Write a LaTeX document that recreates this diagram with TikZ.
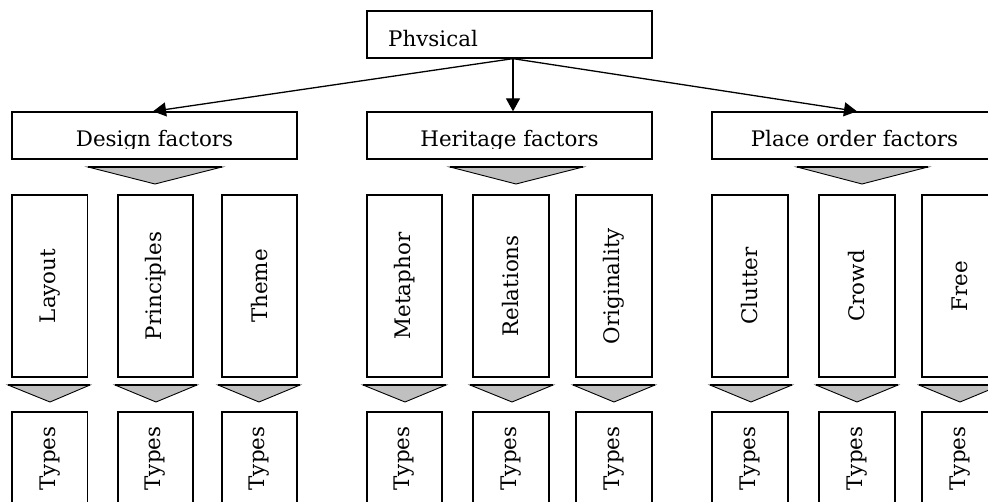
\documentclass[tikz,border=0pt]{standalone}
\usepackage{fontspec}
\setmainfont{DejaVu Serif}
\usetikzlibrary{arrows.meta}
\definecolor{trigray}{HTML}{C0C0C0}
\begin{document}
\begin{tikzpicture}[x=1pt,y=-1pt,
  box/.style={draw, line width=1.3pt, inner sep=0pt, fill=white},
  lab/.style={font=\fontsize{21.4}{24}\selectfont, inner sep=0pt},
  vlab/.style={lab, rotate=90},
  arr/.style={line width=1.3pt, -{Triangle[length=13pt,width=14pt]}},
  tri/.style={draw, line width=0.9pt, fill=trigray, line join=miter},
  tritop/.style={line width=2pt}
]
\useasboundingbox (0,0) rectangle (988,502);
\clip (0,0) rectangle (988,502);

% top box
\node[box, minimum width=285pt, minimum height=47pt] (phys) at (509.5,34.5) {};
\begin{scope}
  \clip (367,11) rectangle (652,48.5);
  \node[lab, anchor=base west] (physt) at (388,47) {Phvsical};
\end{scope}

% factor boxes
\node[box, minimum width=285pt, minimum height=47pt] (design) at (154.5,135.5) {};
\node[box, minimum width=285pt, minimum height=47pt] (heritage) at (509.5,135.5) {};
\node[box, minimum width=285pt, minimum height=47pt] (place) at (854.5,135.5) {};
\begin{scope}
  \clip (0,112) rectangle (988,149);
  \node[lab, anchor=base] (designt) at (154.5,147) {Design factors};
  \node[lab, anchor=base] (heritaget) at (509.5,147) {Heritage factors};
  \node[lab, anchor=base] (placet) at (854.5,147) {Place order factors};
\end{scope}

% arrows
\coordinate (src) at ([xshift=3.5pt]phys.south);
\draw[arr] (src) -- ([xshift=-1.5pt]design.north);
\draw[arr] (src) -- (src |- heritage.north);
\draw[arr] (src) -- ([xshift=2.5pt]place.north);

% big triangles
\foreach \l/\r/\m in {88/222/155, 450/583/516, 797/928/862}{
  \draw[tri] (\l,167) -- (\r,167) -- (\m,184) -- cycle;
  \draw[tritop] (\l,167) -- (\r,167);
}

% category boxes
\foreach \n/\l/\r/\t in {lay/12/87.5/Layout, pri/118/193/Principles, the/222/297/Theme,
  met/367/442/Metaphor, rel/473/549/Relations, ori/576/652/Originality,
  clu/712/788/Clutter, cro/819/895/Crowd, fre/922/998/Free}{
  \node[box, minimum width=\r pt-\l pt, minimum height=182pt] (\n) at ({(\l+\r)/2},286) {};
  \node[vlab] (\n t) at (\n) {\t};
  \node[box, minimum width=\r pt-\l pt, minimum height=93pt] (\n types) at ({(\l+\r)/2},458.5) {};
  \node[vlab] (\n typest) at (\n types) {Types};
}

% small triangles
\foreach \l/\r/\m in {8/90/50, 115/197/156, 218/300/259, 363/446/405, 470/553/512,
  573/655/614, 710/792/751, 816/898/857, 919/1001/960}{
  \draw[tri] (\l,385) -- (\r,385) -- (\m,402) -- cycle;
  \draw[tritop] (\l,385) -- (\r,385);
}
\end{tikzpicture}
\end{document}
